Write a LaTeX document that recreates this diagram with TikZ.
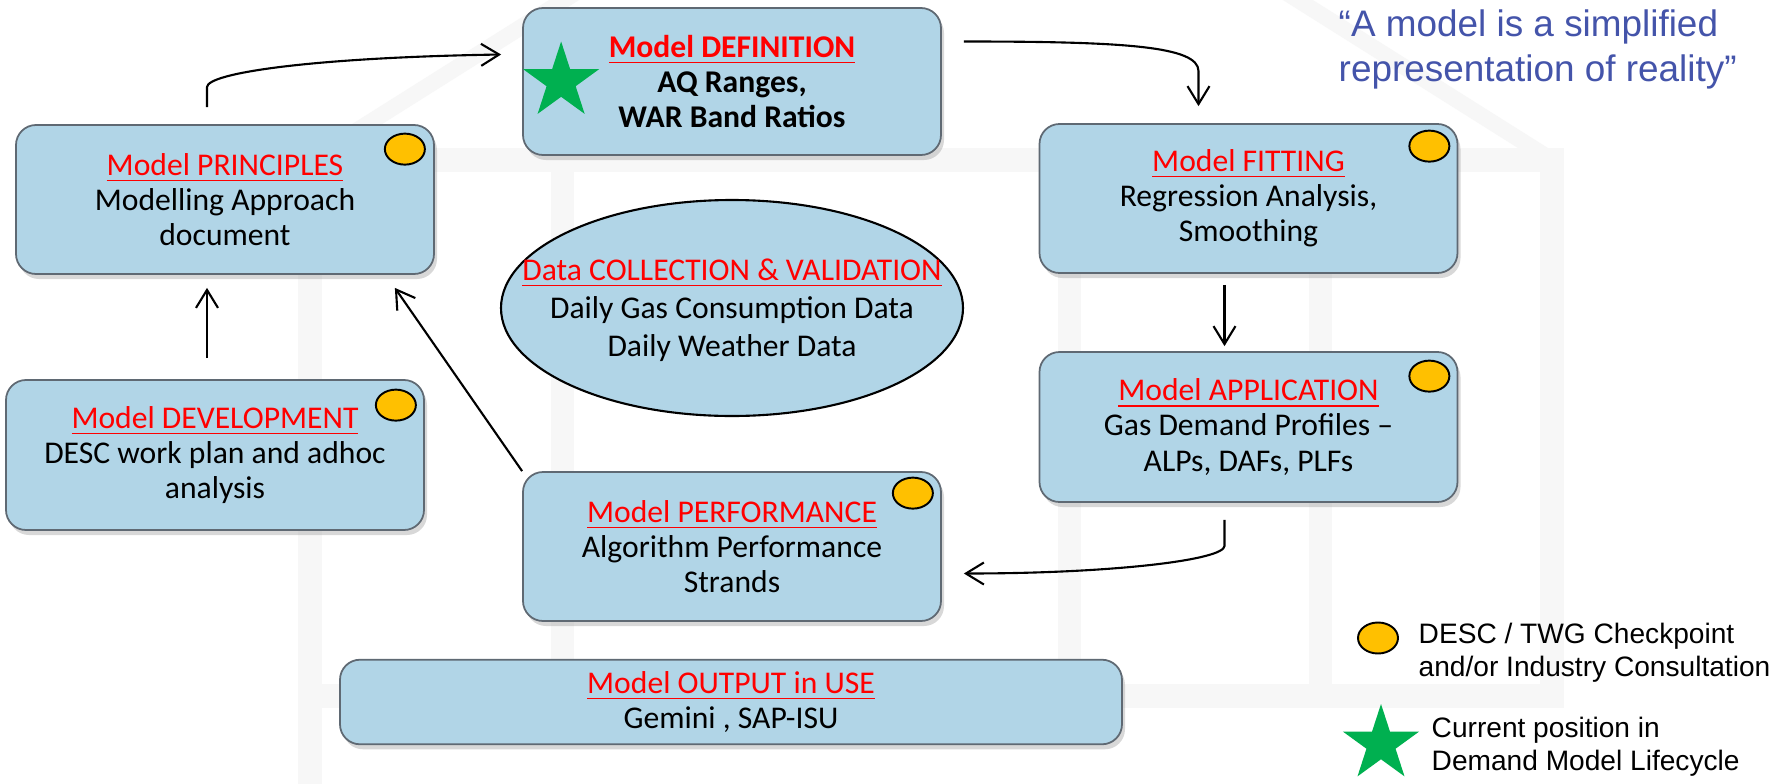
\documentclass[tikz,border=0pt]{standalone}
\usepackage{fontspec}
\setmainfont{Carlito}
\newfontfamily\arialfont{Liberation Sans}
\usetikzlibrary{arrows.meta,shapes.geometric,shadows}
\definecolor{boxfill}{RGB}{177,213,231}
\definecolor{boxedge}{RGB}{95,105,115}
\definecolor{titlered}{RGB}{255,0,0}
\definecolor{dotyellow}{RGB}{255,192,0}
\definecolor{stargreen}{RGB}{0,176,80}
\definecolor{quoteblue}{RGB}{68,84,170}
\definecolor{houseband}{RGB}{247,247,247}
\newcommand{\stagetitle}[1]{\textcolor{titlered}{\underline{#1}}}
\tikzset{
stage/.style={rectangle, rounded corners=2mm, draw=boxedge, line width=0.5pt,
  fill=boxfill, align=center, minimum width=41.8mm, minimum height=14.9mm,
  font=\fontsize{9}{10}\selectfont,
  drop shadow={shadow xshift=0.3mm, shadow yshift=-0.5mm, opacity=0.3}},
datapool/.style={ellipse, draw=black, line width=0.6pt, fill=boxfill,
  minimum width=46.2mm, minimum height=21.6mm},
flow/.style={-{Straight Barb[length=1.8mm,width=2.2mm]}, line width=0.6pt},
mottotext/.style={align=left, inner sep=0, text=quoteblue,
  font=\arialfont\fontsize{10.5}{12.8}\selectfont},
keytext/.style={align=left, inner sep=0, font=\arialfont\fontsize{8}{9.3}\selectfont},
checkpoint/.pic={
  \draw[fill=dotyellow, line width=0.55pt] (0,0) ellipse [x radius=20, y radius=15.5];
  },
curstar/.pic={
  \fill[stargreen] (-90:40) \foreach \i in {1,...,9} {
    -- ({-90+36*\i}:{ifthenelse(mod(\i,2)==0,40,15.3)}) } -- cycle;
  }
}

\begin{document}
\begin{tikzpicture}[x=0.1mm, y=-0.1mm]
\useasboundingbox[fill=white] (0,0) rectangle (1787,784);
% faint house in the back
\begin{scope}
  \clip (0,0) rectangle (1787,784);
  \draw[houseband, line width=2.4mm] (310,784) -- (310,160) -- (1552,160) -- (1552,696) -- (310,696);
  \draw[houseband, line width=1.6mm] (310,160) -- (931,-231) -- (1552,160);
  \foreach \bx in {562,1069,1320}
    \draw[houseband, line width=2.3mm] (\bx,160) -- (\bx,696);
\end{scope}

\node[stage] (principles) at (225,199.5) {\stagetitle{Model PRINCIPLES}\\Modelling Approach\\document};
\node[stage, minimum height=14.7mm, font=\bfseries\fontsize{9}{10}\selectfont] (definition) at (732,81.5)
  {\stagetitle{Model DEFINITION}\\AQ Ranges,\\WAR Band Ratios};
\node[stage] (fitting) at (1248.5,198.5) {\stagetitle{Model FITTING}\\Regression Analysis,\\Smoothing};
\node[stage, minimum height=15mm] (application) at (1248.5,427) {\stagetitle{Model APPLICATION}\\Gas Demand Profiles –\\ALPs, DAFs, PLFs};
\node[stage] (performance) at (732,546.5) {\stagetitle{Model PERFORMANCE}\\Algorithm Performance\\Strands};
\node[stage, minimum height=15mm] (development) at (215,455) {\stagetitle{Model DEVELOPMENT}\\DESC work plan and adhoc\\analysis};
\node[stage, minimum width=78.2mm, minimum height=8.2mm] (output) at (731,702) {\stagetitle{Model OUTPUT in USE}\\Gemini , SAP-ISU};

\node[datapool] (data) at (732,308) {};
\node[align=center, font=\fontsize{9}{10.8}\selectfont] (datatext) at (732,310)
  {\stagetitle{Data COLLECTION \& VALIDATION}\\Daily Gas Consumption Data\\Daily Weather Data};

% checkpoints and current position
\pic at ([shift={(-30,25)}]principles.north east) {checkpoint};
\pic at ([shift={(-29,23)}]fitting.north east) {checkpoint};
\pic at ([shift={(-29,25)}]application.north east) {checkpoint};
\pic at ([shift={(-29,26)}]development.north east) {checkpoint};
\pic at ([shift={(-29,22)}]performance.north east) {checkpoint};
\pic at ([shift={(39,0)}]definition.west) {curstar};

% lifecycle arrows
\draw[flow] ([shift={(-18,-17)}]principles.north) -- ++(0,-20)
  .. controls +(0,-14) and +(-190,3) .. ([shift={(-21,-27)}]definition.west);
\draw[flow] ([shift={(22,-40)}]definition.east)
  .. controls +(160,0) and +(0,-25) .. ([shift={(-50,-52)}]fitting.north)
  -- ([shift={(-50,-17)}]fitting.north);
\draw[flow] ([shift={(-24,11)}]fitting.south) -- ([shift={(-24,-5)}]application.north);
\draw[flow] ([shift={(-24,17)}]application.south) -- ++(0,26)
  .. controls +(0,14) and +(150,0) .. ([shift={(22,27)}]performance.east);
\draw[flow] (performance.north west) -- ([shift={(-40,13)}]principles.south east);
\draw[flow] ([shift={(-8,-21)}]development.north) -- ([shift={(-18,13)}]principles.south);

% quote and key
\node[mottotext, anchor=west] (motto) at (1338,49.5) {“A model is a simplified\\representation of reality”};
\coordinate (cpkey) at (1378,638);
\pic at (cpkey) {checkpoint};
\node[keytext, anchor=west] (cpnote) at (1418,652.5) {DESC / TWG Checkpoint\\and/or Industry Consultation};
\coordinate (starkey) at (1381,744);
\pic at (starkey) {curstar};
\node[keytext, anchor=west] (starnote) at (1431,746.5) {Current position in\\Demand Model Lifecycle};
\end{tikzpicture}
\end{document}
